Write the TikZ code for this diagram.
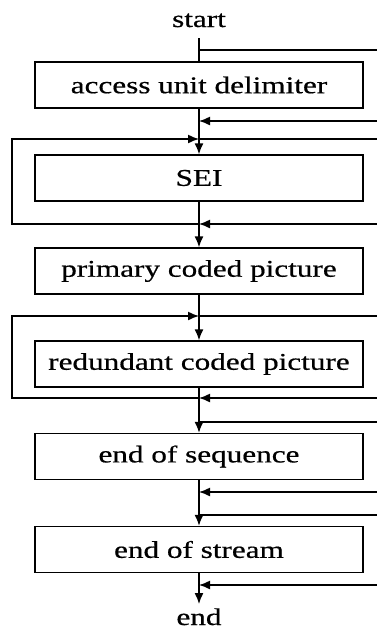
\documentclass[tikz,border=0pt]{standalone}
\usepackage{fontspec}
\setmainfont{Liberation Serif}[FakeStretch=1.3,FakeBold=0.6]
\usetikzlibrary{arrows.meta}
\begin{document}
\begin{tikzpicture}[x=1pt,y=-1pt]
	\tikzstyle{boite}=[draw,line width=1.4pt,minimum width=328pt,minimum height=46pt,inner sep=0pt,font=\fontsize{24}{26}\selectfont]
	\tikzstyle{texte}=[font=\fontsize{24}{26}\selectfont,inner sep=0pt]
	\tikzstyle{ligne}=[line width=1.4pt]
	\tikzstyle{fleche}=[line width=1.4pt,-{Latex[length=11pt,width=9pt]}]
	\useasboundingbox (0,0) rectangle (377,630);
	\def\Axe{199}\def\Gauche{12}\def\Droite{377}
	% boites
	\node[texte,anchor=base] (debut) at (\Axe,27) {start};
	\node[boite] (aud) at (\Axe,85) {access unit delimiter};
	\node[boite] (sei) at (\Axe,178) {SEI};
	\node[boite] (prim) at (\Axe,271) {primary coded picture};
	\node[boite] (red) at (\Axe,364) {redundant coded picture};
	\node[boite] (eoseq) at (\Axe,456.5) {end of sequence};
	\node[boite] (eost) at (\Axe,549.5) {end of stream};
	\node[texte,anchor=base] (fin) at (\Axe,625) {end};
	% points de jonction
	\coordinate (haut) at (\Axe,38); \coordinate (bas) at (\Axe,604);
	\coordinate (j1) at (\Axe,50); \coordinate (d1) at (\Droite,50);
	\coordinate (j2) at (\Axe,121); \coordinate (d2) at (\Droite,121);
	\coordinate (j3) at (\Axe,139); \coordinate (d3) at (\Droite,139);
	\coordinate (g1) at (\Gauche,139); \coordinate (g2) at (\Gauche,224);
	\coordinate (j4) at (\Axe,224); \coordinate (d4) at (\Droite,224);
	\coordinate (j5) at (\Axe,316); \coordinate (d5) at (\Droite,316);
	\coordinate (g3) at (\Gauche,316); \coordinate (g4) at (\Gauche,398);
	\coordinate (j6) at (\Axe,398); \coordinate (d6) at (\Droite,398);
	\coordinate (j7) at (\Axe,422); \coordinate (d7) at (\Droite,422);
	\coordinate (j8) at (\Axe,492); \coordinate (d8) at (\Droite,492);
	\coordinate (j9) at (\Axe,515); \coordinate (d9) at (\Droite,515);
	\coordinate (j10) at (\Axe,585); \coordinate (d10) at (\Droite,585);
	% axe principal
	\draw[ligne] (haut)--(aud) ; \draw[fleche] (aud)--(sei) ;
	\draw[fleche] (sei)--(prim) ; \draw[fleche] (prim)--(red) ;
	\draw[fleche] (red)--(eoseq) ; \draw[fleche] (eoseq)--(eost) ;
	\draw[fleche] (eost)--(bas) ;
	% boucles
	\draw[fleche] (j4)--(g2)--(g1)--(j3) ; \draw[fleche] (j6)--(g4)--(g3)--(j5) ;
	% branches a droite
	\draw[ligne] (j1)--(d1) ; \draw[fleche] (d2)--(j2) ;
	\draw[ligne] (j3)--(d3) ; \draw[fleche] (d4)--(j4) ;
	\draw[ligne] (j5)--(d5) ; \draw[fleche] (d6)--(j6) ;
	\draw[ligne] (j7)--(d7) ; \draw[fleche] (d8)--(j8) ;
	\draw[ligne] (j9)--(d9) ; \draw[fleche] (d10)--(j10) ;
\end{tikzpicture}
\end{document}
